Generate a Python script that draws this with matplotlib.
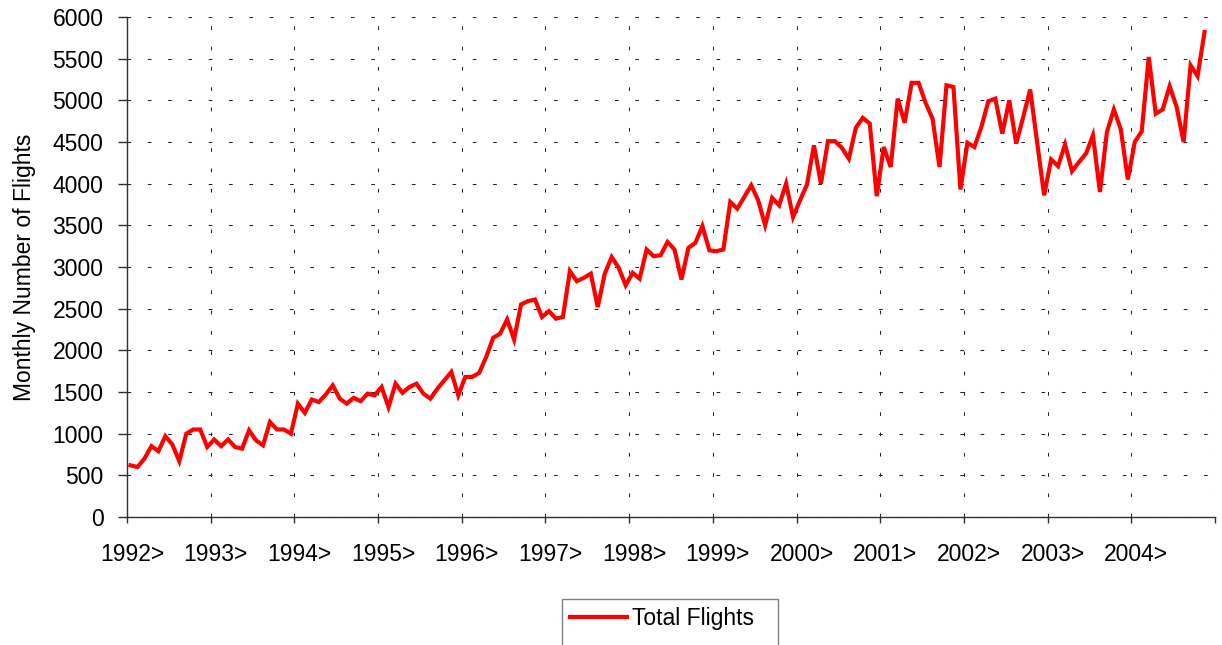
import numpy as np
import matplotlib
matplotlib.use('Agg')
import matplotlib.pyplot as plt
import matplotlib.transforms as mtransforms
from matplotlib.patches import Rectangle

# monthly values, Jan 1992 .. Nov 2004
flights = [
    620, 600, 700, 850, 790, 970, 870, 670, 1000, 1050, 1050, 840,      # 1992
    930, 850, 930, 840, 820, 1040, 920, 860, 1140, 1050, 1050, 1000,    # 1993
    1360, 1250, 1410, 1380, 1470, 1580, 1420, 1360, 1430, 1390, 1480, 1460,  # 1994
    1560, 1320, 1600, 1490, 1560, 1600, 1480, 1420, 1540, 1640, 1740, 1460,  # 1995
    1680, 1680, 1730, 1920, 2150, 2200, 2370, 2130, 2550, 2590, 2610, 2400,  # 1996
    2470, 2380, 2400, 2950, 2830, 2870, 2920, 2520, 2920, 3120, 2990, 2780,  # 1997
    2930, 2860, 3210, 3130, 3140, 3300, 3210, 2850, 3230, 3290, 3490, 3200,  # 1998
    3190, 3210, 3780, 3700, 3840, 3980, 3800, 3500, 3830, 3740, 4000, 3600,  # 1999
    3800, 3990, 4460, 4000, 4510, 4510, 4430, 4300, 4670, 4790, 4720, 3850,  # 2000
    4440, 4200, 5020, 4730, 5210, 5210, 4970, 4780, 4200, 5180, 5160, 3930,  # 2001
    4490, 4440, 4680, 4990, 5020, 4600, 5000, 4480, 4800, 5130, 4500, 3860,  # 2002
    4290, 4210, 4470, 4150, 4260, 4360, 4580, 3900, 4620, 4890, 4650, 4050,  # 2003
    4500, 4630, 5520, 4840, 4890, 5170, 4920, 4500, 5420, 5290, 5820,        # 2004
]
years = list(range(1992, 2005))
year_labels = [f'{y}>' for y in years]

plt.rcParams['font.family'] = ['Liberation Sans', 'DejaVu Sans']
FS = 16.5

fig = plt.figure(figsize=(12.22, 6.45), dpi=100)
ax = fig.add_axes([127 / 1222, 1 - 517 / 645, (1215 - 127) / 1222, 500 / 645])

x = np.arange(len(flights)) + 0.5
line, = ax.plot(x, flights, color='#FF0000', lw=3, solid_joinstyle='miter',
                label='Total Flights', zorder=3)

n_slots = 12 * len(years)
ax.set_xlim(0, n_slots)
ax.set_ylim(0, 6000)
ax.set_yticks(np.arange(0, 6001, 500))
ax.set_xticks(np.arange(0, n_slots + 1, 12))
ax.set_xticklabels(year_labels + [''])

for s in ['top', 'right']:
    ax.spines[s].set_visible(False)
for s in ['left', 'bottom']:
    ax.spines[s].set_color('#303030')
    ax.spines[s].set_linewidth(1)

ax.tick_params(axis='y', direction='out', length=6.5, width=1, color='#303030',
               pad=10.5, labelsize=FS)
ax.tick_params(axis='x', direction='out', length=4.5, width=1, color='#303030',
               pad=14.5, labelsize=FS)

# nudge year labels a little right, as in the original
shift = mtransforms.ScaledTranslation(5 / 100, 0, fig.dpi_scale_trans)
for lbl in ax.get_xticklabels():
    lbl.set_transform(lbl.get_transform() + shift)

ax.grid(True, color='#222222', lw=0.75, linestyle=(0, (3.5, 16)))
ax.set_axisbelow(True)

ax.set_ylabel('Monthly Number of Flights', fontsize=FS, labelpad=12)

# legend box (runs off the bottom edge like the original)
fig.patches.append(Rectangle((562 / 1222, 1 - 660 / 645), 216 / 1222, 61 / 645,
                             transform=fig.transFigure, fill=False,
                             edgecolor='#808080', lw=1, clip_on=False))
fig.legend(handles=[line], loc='center left', frameon=False, borderpad=0,
           borderaxespad=0, bbox_to_anchor=(570 / 1222, 1 - 619 / 645),
           fontsize=FS, handlelength=2.5, handletextpad=0.22)

fig.savefig('out.png', dpi=100)
